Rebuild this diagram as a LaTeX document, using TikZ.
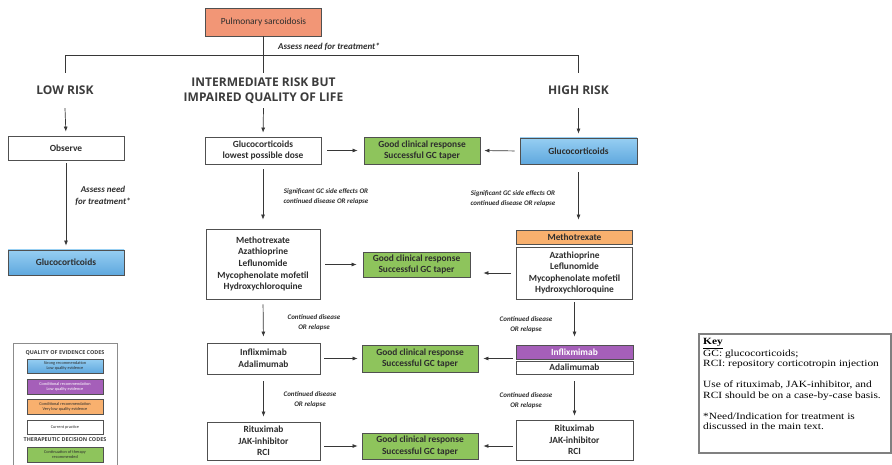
\documentclass[tikz,border=0pt]{standalone}
\usepackage{fontspec}
\usetikzlibrary{arrows.meta}
\newfontfamily\boxf{Carlito}
\newfontfamily\headf{Open Sans}
\newfontfamily\keyf{Liberation Serif}[FakeStretch=1.2]
\definecolor{bcol}{RGB}{80,80,80}
\definecolor{acol}{RGB}{55,55,55}
\definecolor{tcol}{RGB}{45,45,45}
\definecolor{hcol}{RGB}{60,60,60}
\definecolor{salmon}{RGB}{242,150,118}
\definecolor{gfill}{RGB}{142,196,92}
\definecolor{blueT}{RGB}{150,206,242}
\definecolor{blueB}{RGB}{95,168,222}
\definecolor{ofill}{RGB}{248,176,110}
\definecolor{pfill}{RGB}{165,95,185}
\tikzset{
  bx/.style={draw=bcol, line width=0.8pt, fill=white, align=center, inner sep=0pt,
    font=\boxf\bfseries\fontsize{9.4}{11.6}\selectfont, text=tcol},
  gbox/.style={bx, fill=gfill},
  bluebox/.style={bx, top color=blueT, bottom color=blueB},
  obox/.style={bx, fill=ofill},
  pbox/.style={bx, fill=pfill, text=white},
  arr/.style={draw=acol, line width=0.7pt, -{Latex[length=5pt,width=4pt]}},
  ln/.style={draw=acol, line width=0.8pt},
  lbl/.style={font=\boxf\bfseries\itshape\fontsize{7}{10}\selectfont, align=center, text=tcol, inner sep=0pt},
  head/.style={font=\headf\bfseries\fontsize{12}{14.5}\selectfont, align=center, text=hcol, inner sep=0pt, minimum height=35pt},
  lgbox/.style={draw=bcol, line width=0.6pt, align=center, inner sep=0pt, minimum width=76pt,
    font=\boxf\fontsize{4.3}{5}\selectfont, text=tcol},
  lgtitle/.style={font=\headf\bfseries\fontsize{5.4}{6.5}\selectfont, text=hcol, inner sep=0pt},
}
\begin{document}
\begin{tikzpicture}[x=1pt,y=-1pt]
\clip (0,0) rectangle (892,465);
\fill[white] (0,0) rectangle (892,465);

% title and risk headings
\node[bx, fill=salmon, minimum width=116pt, minimum height=28pt] (title) at (263.5,22) {\mdseries Pulmonary sarcoidosis};
\node[lbl, font=\boxf\bfseries\itshape\fontsize{9}{10}\selectfont] (assess) at (329,47) {Assess need for treatment*};
\node[head] (lowrisk) at (65,90.5) {LOW RISK};
\node[head] (interm) at (263.5,90.5) {INTERMEDIATE RISK BUT\\IMPAIRED QUALITY OF LIFE};
\node[head] (highrisk) at (578.5,90.5) {HIGH RISK};
\draw[ln] (title.south) -- (interm.north);
\draw[ln] (lowrisk.north) -- ++(0,-17) -| (highrisk.north);

% low risk column
\node[bx, minimum width=116pt, minimum height=24pt] (observe) at (66,148) {Observe};
\node[bluebox, minimum width=116pt, minimum height=25pt] (gclow) at (66,262.5) {Glucocorticoids};
\node[lbl, font=\boxf\bfseries\itshape\fontsize{9}{11.5}\selectfont] (assess2) at (103,196) {Assess need\\for treatment*};

% intermediate column
\node[bx, minimum width=116pt, minimum height=27pt] (int1) at (263,150.5) {Glucocorticoids\\lowest possible dose};
\node[bx, minimum width=114pt, minimum height=70pt] (int2) at (263,264) {Methotrexate\\Azathioprine\\Leflunomide\\Mycophenolate mofetil\\Hydroxychloroquine};
\node[bx, minimum width=113pt, minimum height=31pt] (int3) at (263.5,358.5) {Inflixmimab\\Adalimumab};
\node[bx, minimum width=113pt, minimum height=38pt] (int4) at (263.5,441) {Rituximab\\JAK-inhibitor\\RCI};

% green response boxes
\node[gbox, minimum width=116pt, minimum height=27pt] (g1) at (422,150.5) {Good clinical response\\Successful GC taper};
\node[gbox, minimum width=107pt, minimum height=25pt] (g2) at (416.5,264.5) {Good clinical response\\Successful GC taper};
\node[gbox, minimum width=116pt, minimum height=27pt] (g3) at (420,358.5) {Good clinical response\\Successful GC taper};
\node[gbox, minimum width=116pt, minimum height=26pt] (g4) at (420,446) {Good clinical response\\Successful GC taper};

% high risk column
\node[bluebox, minimum width=117pt, minimum height=26pt] (high1) at (578.5,151) {Glucocorticoids};
\node[obox, minimum width=116pt, minimum height=14pt] (meth1) at (574.5,237) {Methotrexate};
\node[bx, minimum width=116pt, minimum height=52pt] (meth2) at (574.5,273) {Azathioprine\\Leflunomide\\Mycophenolate mofetil\\Hydroxychloroquine};
\node[pbox, minimum width=117pt, minimum height=14pt] (infl) at (574.5,352) {Inflixmimab};
\node[bx, minimum width=117pt, minimum height=13pt] (adal) at (574.5,367.5) {Adalimumab};
\node[bx, minimum width=117pt, minimum height=40pt] (high4) at (574.5,440) {Rituximab\\JAK-inhibitor\\RCI};

% vertical arrows
\draw[arr, shorten >=4pt] (lowrisk.south) -- (observe.north);
\draw[arr, shorten >=4pt] (interm.south) -- (int1.north);
\draw[arr, shorten >=4pt] (highrisk.south) -- (high1.north);
\draw[arr, shorten <=3pt, shorten >=4pt] (observe.south) -- (gclow.north);
\draw[arr, shorten <=5pt, shorten >=9pt] (int1.south) -- (int2.north);
\draw[arr, shorten <=8pt, shorten >=10pt] (high1.south) -- (high1.south |- meth1.north);
\draw[arr, shorten <=5pt, shorten >=6pt] (int2.south) -- (int3.north);
\draw[arr, shorten <=3pt, shorten >=8pt] (meth2.south) -- (infl.north);
\draw[arr, shorten <=7pt, shorten >=5pt] (int3.south) -- (int4.north);
\draw[arr, shorten <=7pt, shorten >=4pt] (adal.south) -- (high4.north);

% horizontal arrows
\draw[arr, shorten <=6pt, shorten >=6pt] (int1.east) -- (g1.west);
\draw[arr, shorten <=5pt, shorten >=4pt] (high1.west) -- (g1.east);
\draw[arr, shorten <=5pt, shorten >=6pt] (int2.east |- g2.west) -- (g2.west);
\draw[arr, shorten <=5pt, shorten >=13pt] (meth2.west) -- (meth2.west -| g2.east);
\draw[arr, shorten <=4pt, shorten >=4pt] (int3.east) -- (g3.west);
\draw[arr, shorten <=3pt, shorten >=5pt] (adal.west |- g3.east) -- (g3.east);
\draw[arr, shorten <=4pt, shorten >=4pt] (int4.east |- g4.west) -- (g4.west);
\draw[arr, shorten <=3pt, shorten >=5pt] (high4.west |- g4.east) -- (g4.east);

% connector labels
\node[lbl] (l1) at (326,197) {Significant GC side effects OR\\continued disease OR relapse};
\node[lbl] (l2) at (513,199) {Significant GC side effects OR\\continued disease OR relapse};
\node[lbl] (l3) at (314,323) {Continued disease\\OR relapse};
\node[lbl] (l4) at (526,325) {Continued disease\\OR relapse};
\node[lbl] (l5) at (310,400) {Continued disease\\OR relapse};
\node[lbl] (l6) at (526,401) {Continued disease\\OR relapse};

% legend of codes
\draw[draw=black!45, line width=1pt, fill=white] (13,343) rectangle (117,480);
\node[lgtitle] (lq) at (65,353) {QUALITY OF EVIDENCE CODES};
\node[lgbox, top color=blueT, bottom color=blueB, minimum height=14pt] (lg1) at (65,366) {Strong recommendation\\Low quality evidence};
\node[lgbox, fill=pfill, text=white, minimum height=15pt] (lg2) at (65,386.5) {Conditional recommendation\\Low quality evidence};
\node[lgbox, fill=ofill, minimum height=15pt] (lg3) at (65,406.5) {Conditional recommendation\\Very low quality evidence};
\node[lgbox, fill=white, minimum height=14pt] (lg4) at (65,427) {Current practice};
\node[lgtitle] (lt) at (65,440) {THERAPEUTIC DECISION CODES};
\node[lgbox, fill=gfill, minimum height=15pt] (lg5) at (65,454.5) {Continuation of therapy\\recommended};

% key
\draw[draw=black!50, line width=1.5pt] (699,334) rectangle (891,453);
\node[anchor=north west, inner sep=0pt, align=left, text=black,
  font=\keyf\fontsize{9.5}{10.5}\selectfont] (key) at (703,338)
  {\underline{\textbf{Key}}\\
   GC: glucocorticoids;\\
   RCI: repository corticotropin injection\\[10.5pt]
   Use of rituximab, JAK-inhibitor, and\\
   RCI should be on a case-by-case basis.\\[10.5pt]
   *Need/Indication for treatment is\\
   discussed in the main text.};
\end{tikzpicture}
\end{document}
